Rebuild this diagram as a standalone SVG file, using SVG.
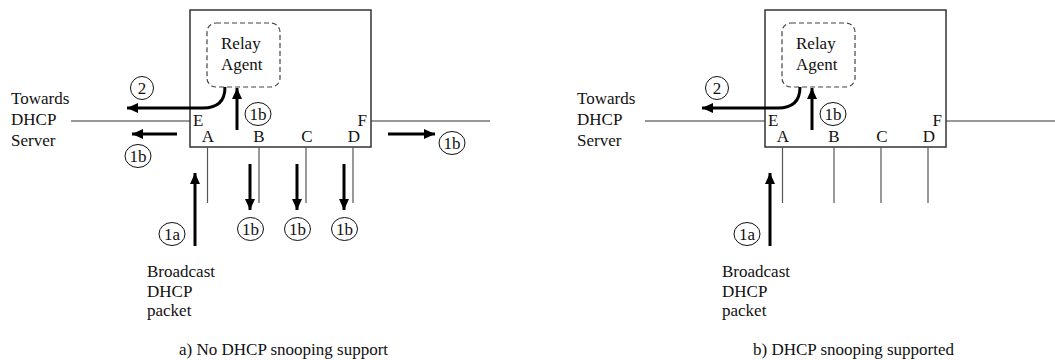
<svg xmlns="http://www.w3.org/2000/svg" width="1055" height="360" viewBox="0 0 1055 360">
<style>
text{font-family:"Liberation Serif","Times New Roman",serif;font-size:17px;fill:#111}
.box{fill:#fff;stroke:#333;stroke-width:1.5}
.ra{fill:none;stroke:#444;stroke-width:1.2;stroke-dasharray:5 3}
.wire{stroke:#333;stroke-width:1.2;fill:none}
.port{stroke:#555;stroke-width:1.2;fill:none}
.arr{stroke:#000;stroke-width:3;fill:none;marker-end:url(#ah)}
.lab{fill:#fff;stroke:#111;stroke-width:1}
.ltx{text-anchor:middle;font-size:17px}
</style>
<defs>
<marker id="ah" markerUnits="userSpaceOnUse" markerWidth="12" markerHeight="10" refX="11" refY="5" orient="auto">
<path d="M0,0 L11,5 L0,10 Z" fill="#000"/>
</marker>
</defs>

<!-- Panel a -->
<g id="a-switch">
<rect class="box" x="190" y="10" width="181" height="137"/>
<text x="193" y="126">E</text>
<text x="367" y="126" text-anchor="end">F</text>
<text x="208" y="142" text-anchor="middle">A</text>
<text x="259" y="142" text-anchor="middle">B</text>
<text x="307" y="142" text-anchor="middle">C</text>
<text x="354" y="142" text-anchor="middle">D</text>
</g>
<g id="a-relay">
<rect class="ra" x="207" y="23" width="73" height="64" rx="9"/>
<text x="221" y="49">Relay</text>
<text x="221" y="70">Agent</text>
</g>
<g id="a-server-label">
<text x="11" y="104">Towards</text>
<text x="11" y="125">DHCP</text>
<text x="11" y="146">Server</text>
</g>
<g id="a-packet-label">
<text x="147" y="277">Broadcast</text>
<text x="147" y="297">DHCP</text>
<text x="147" y="316">packet</text>
</g>
<g id="a-wires">
<line class="wire" x1="71" y1="121" x2="190" y2="121"/>
<line class="wire" x1="371" y1="121" x2="490" y2="121"/>
<line class="port" x1="207.5" y1="147" x2="207.5" y2="203"/>
<line class="port" x1="259" y1="147" x2="259" y2="203"/>
<line class="port" x1="306" y1="147" x2="306" y2="203"/>
<line class="port" x1="353" y1="147" x2="353" y2="203"/>
</g>
<g id="a-connectors">
<path class="arr" d="M225,87 C225,102 216,108 203,108 L127,108"/>
<path class="arr" d="M237,130 L237,88"/>
<path class="arr" d="M177,134 L132,134"/>
<path class="arr" d="M388,134 L435,134"/>
<path class="arr" d="M250,164 L250,210"/>
<path class="arr" d="M297,164 L297,210"/>
<path class="arr" d="M344,164 L344,210"/>
<path class="arr" d="M195,246 L195,173"/>
</g>
<g id="a-labels">
<ellipse class="lab" cx="142" cy="88" rx="11.5" ry="11.5"/><text class="ltx" x="142" y="94">2</text>
<ellipse class="lab" cx="258" cy="114" rx="13" ry="11.5"/><text class="ltx" x="258" y="120">1b</text>
<ellipse class="lab" cx="138" cy="156" rx="13" ry="11.5"/><text class="ltx" x="138" y="162">1b</text>
<ellipse class="lab" cx="452" cy="143" rx="13" ry="11.5"/><text class="ltx" x="452" y="149">1b</text>
<ellipse class="lab" cx="250.5" cy="229" rx="13" ry="11.5"/><text class="ltx" x="250.5" y="235">1b</text>
<ellipse class="lab" cx="297.5" cy="229" rx="13" ry="11.5"/><text class="ltx" x="297.5" y="235">1b</text>
<ellipse class="lab" cx="344.5" cy="229" rx="13" ry="11.5"/><text class="ltx" x="344.5" y="235">1b</text>
<ellipse class="lab" cx="172" cy="234" rx="13" ry="11.5"/><text class="ltx" x="172" y="240">1a</text>
</g>
<text id="a-caption" x="179" y="355" font-size="15">a) No DHCP snooping support</text>

<!-- Panel b -->
<g id="b-switch">
<rect class="box" x="765" y="10" width="181" height="137"/>
<text x="768" y="126">E</text>
<text x="942" y="126" text-anchor="end">F</text>
<text x="783" y="142" text-anchor="middle">A</text>
<text x="834" y="142" text-anchor="middle">B</text>
<text x="882" y="142" text-anchor="middle">C</text>
<text x="929" y="142" text-anchor="middle">D</text>
</g>
<g id="b-relay">
<rect class="ra" x="782" y="23" width="73" height="64" rx="9"/>
<text x="796" y="49">Relay</text>
<text x="796" y="70">Agent</text>
</g>
<g id="b-server-label">
<text x="577" y="104">Towards</text>
<text x="577" y="125">DHCP</text>
<text x="577" y="146">Server</text>
</g>
<g id="b-packet-label">
<text x="722" y="277">Broadcast</text>
<text x="722" y="297">DHCP</text>
<text x="722" y="316">packet</text>
</g>
<g id="b-wires">
<line class="wire" x1="645" y1="121" x2="765" y2="121"/>
<line class="wire" x1="946" y1="121" x2="1055" y2="121"/>
<line class="port" x1="782.5" y1="147" x2="782.5" y2="203"/>
<line class="port" x1="834" y1="147" x2="834" y2="203"/>
<line class="port" x1="881" y1="147" x2="881" y2="203"/>
<line class="port" x1="928" y1="147" x2="928" y2="203"/>
</g>
<g id="b-connectors">
<path class="arr" d="M800,87 C800,102 791,108 778,108 L702,108"/>
<path class="arr" d="M812,130 L812,88"/>
<path class="arr" d="M770,246 L770,173"/>
</g>
<g id="b-labels">
<ellipse class="lab" cx="717" cy="88" rx="11.5" ry="11.5"/><text class="ltx" x="717" y="94">2</text>
<ellipse class="lab" cx="833" cy="114" rx="13" ry="11.5"/><text class="ltx" x="833" y="120">1b</text>
<ellipse class="lab" cx="747" cy="234" rx="13" ry="11.5"/><text class="ltx" x="747" y="240">1a</text>
</g>
<text id="b-caption" x="753" y="355" font-size="15">b) DHCP snooping supported</text>
</svg>
